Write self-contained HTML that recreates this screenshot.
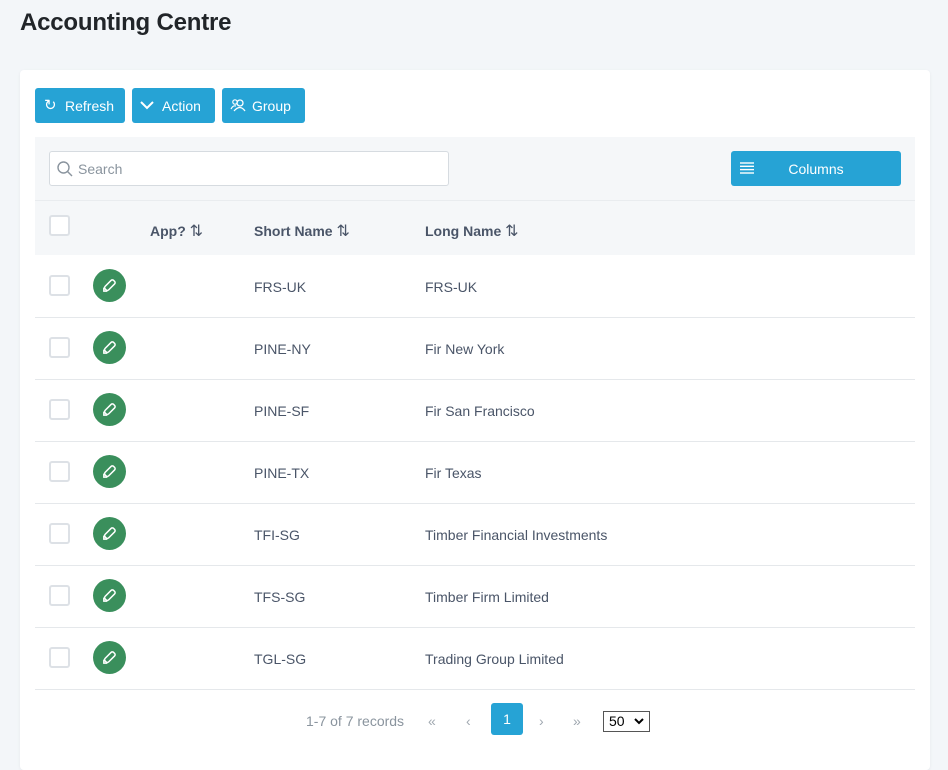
<!DOCTYPE html>
<html><head><style>
*{box-sizing:border-box;margin:0;padding:0}
body{width:948px;height:740px;overflow:hidden;background:#f3f6f9;font-family:"Liberation Sans",sans-serif;position:relative;color:#4a5568}
h1{position:absolute;left:20px;top:9px;font-size:24px;font-weight:bold;color:#212529;letter-spacing:-0.2px}
.card{position:absolute;left:20px;top:70px;width:910px;height:700px;background:#fff;border-radius:4px;box-shadow:0 1px 3px rgba(0,0,0,.06)}
.btn{position:absolute;top:88px;height:35px;background:#26a3d5;color:#fff;border-radius:3px;font-size:14px;line-height:36px;padding-left:30px}
.tb{position:absolute;left:35px;top:137px;width:880px;height:118px;background:#f5f7f9}
.search{position:absolute;left:49px;top:151px;width:400px;height:35px;background:#fff;border:1px solid #d6dbe0;border-radius:3px;font-size:14px;color:#8a949e;line-height:34px;padding-left:28px}
.cols{position:absolute;left:731px;top:151px;width:170px;height:35px;background:#26a3d5;color:#fff;border-radius:3px;font-size:14px;line-height:36px;text-align:center}
.hdr{position:absolute;left:35px;top:200px;width:880px;border-top:1px solid #e9ecef}
.th{position:absolute;top:221px;font-size:14px;font-weight:bold;color:#4a5568}
.cb{position:absolute;left:49px;width:21px;height:21px;border:2px solid #dde1e6;border-radius:3px;background:#fff}
.ed{position:absolute;left:93px;width:33px;height:33px;border-radius:50%;background:#3a8f5c}
.td{position:absolute;font-size:14px;color:#4a5568}
.line{position:absolute;left:35px;width:880px;border-top:1px solid #e5e8eb}
.pg{position:absolute;top:713px;font-size:14px;color:#a0a8b0}
</style></head><body>
<h1>Accounting Centre</h1>
<div class="card"></div>
<div class="btn" style="left:35px;width:90px"><span style="position:absolute;left:9px;font-size:15px">&#x21bb;</span>Refresh</div>
<div class="btn" style="left:132px;width:83px"><svg style="position:absolute;left:8px;top:12px" width="14" height="10"><polyline points="1,2 7,8 13,2" fill="none" stroke="#fff" stroke-width="2"/></svg>Action</div>
<div class="btn" style="left:222px;width:83px"><svg style="position:absolute;left:8px;top:10px" width="16" height="14"><circle cx="10" cy="5" r="3" fill="none" stroke="#fff" stroke-width="1.3"/><circle cx="5" cy="4" r="2.2" fill="none" stroke="#fff" stroke-width="1.2"/><path d="M4 13 Q10 6 15 13" fill="none" stroke="#fff" stroke-width="1.3"/><path d="M1 11 Q3 7 6 8" fill="none" stroke="#fff" stroke-width="1.2"/></svg>Group</div>
<div class="tb"></div>
<div class="search"><svg style="position:absolute;left:7px;top:9px" width="16" height="16"><circle cx="6.5" cy="6.5" r="5.5" fill="none" stroke="#8a949e" stroke-width="1.4"/><line x1="10.5" y1="10.5" x2="15" y2="15" stroke="#8a949e" stroke-width="1.4"/></svg>Search</div>
<div class="cols"><svg style="position:absolute;left:9px;top:11px" width="14" height="12"><g stroke="#fff" stroke-width="1.4"><line x1="0" y1="1" x2="14" y2="1"/><line x1="0" y1="4.3" x2="14" y2="4.3"/><line x1="0" y1="7.6" x2="14" y2="7.6"/><line x1="0" y1="11" x2="14" y2="11"/></g></svg>Columns</div>
<div class="hdr"></div>
<div class="cb" style="top:215px"></div>
<div class="th" style="left:150px">App? <span style="font-weight:normal;font-size:16px">&#x21c5;</span></div>
<div class="th" style="left:254px">Short Name <span style="font-weight:normal;font-size:16px">&#x21c5;</span></div>
<div class="th" style="left:425px">Long Name <span style="font-weight:normal;font-size:16px">&#x21c5;</span></div>
<div id="rows"></div>
<script>
var d=[["FRS-UK","FRS-UK"],["PINE-NY","Fir New York"],["PINE-SF","Fir San Francisco"],["PINE-TX","Fir Texas"],["TFI-SG","Timber Financial Investments"],["TFS-SG","Timber Firm Limited"],["TGL-SG","Trading Group Limited"]];
var h="";d.forEach(function(r,i){var y=255+62*i;
h+='<div class="cb" style="top:'+(y+20)+'px"></div>';
h+='<div class="ed" style="top:'+(y+14)+'px"><svg width="33" height="33"><g transform="rotate(45 16.5 16.5)"><rect x="14" y="10" width="5" height="12" rx="1.8" fill="none" stroke="#fff" stroke-width="1.5"/><path d="M14 22 L16.5 24.5 L19 22" fill="none" stroke="#fff" stroke-width="1.5"/></g></svg></div>';
h+='<div class="td" style="left:254px;top:'+(y+24)+'px">'+r[0]+'</div>';
h+='<div class="td" style="left:425px;top:'+(y+24)+'px">'+r[1]+'</div>';
h+='<div class="line" style="top:'+(y+62)+'px"></div>';});
document.getElementById("rows").innerHTML=h;
</script>
<div class="pg" style="left:306px;color:#8a949e">1-7 of 7 records</div>
<div class="pg" style="left:428px">&laquo;</div>
<div class="pg" style="left:466px">&lsaquo;</div>
<div style="position:absolute;left:491px;top:703px;width:32px;height:32px;background:#26a3d5;border-radius:3px;color:#fff;font-size:14px;text-align:center;line-height:33px">1</div>
<div class="pg" style="left:539px">&rsaquo;</div>
<div class="pg" style="left:573px">&raquo;</div>
<div style="position:absolute;left:603px;top:711px;width:47px;height:21px;border:1px solid #555;background:#fff;font-size:14px;color:#000;line-height:19px;padding-left:5px">50<svg style="position:absolute;right:5px;top:6px" width="10" height="7"><polyline points="1,1 5,5 9,1" fill="none" stroke="#000" stroke-width="2"/></svg></div>
</body></html>
